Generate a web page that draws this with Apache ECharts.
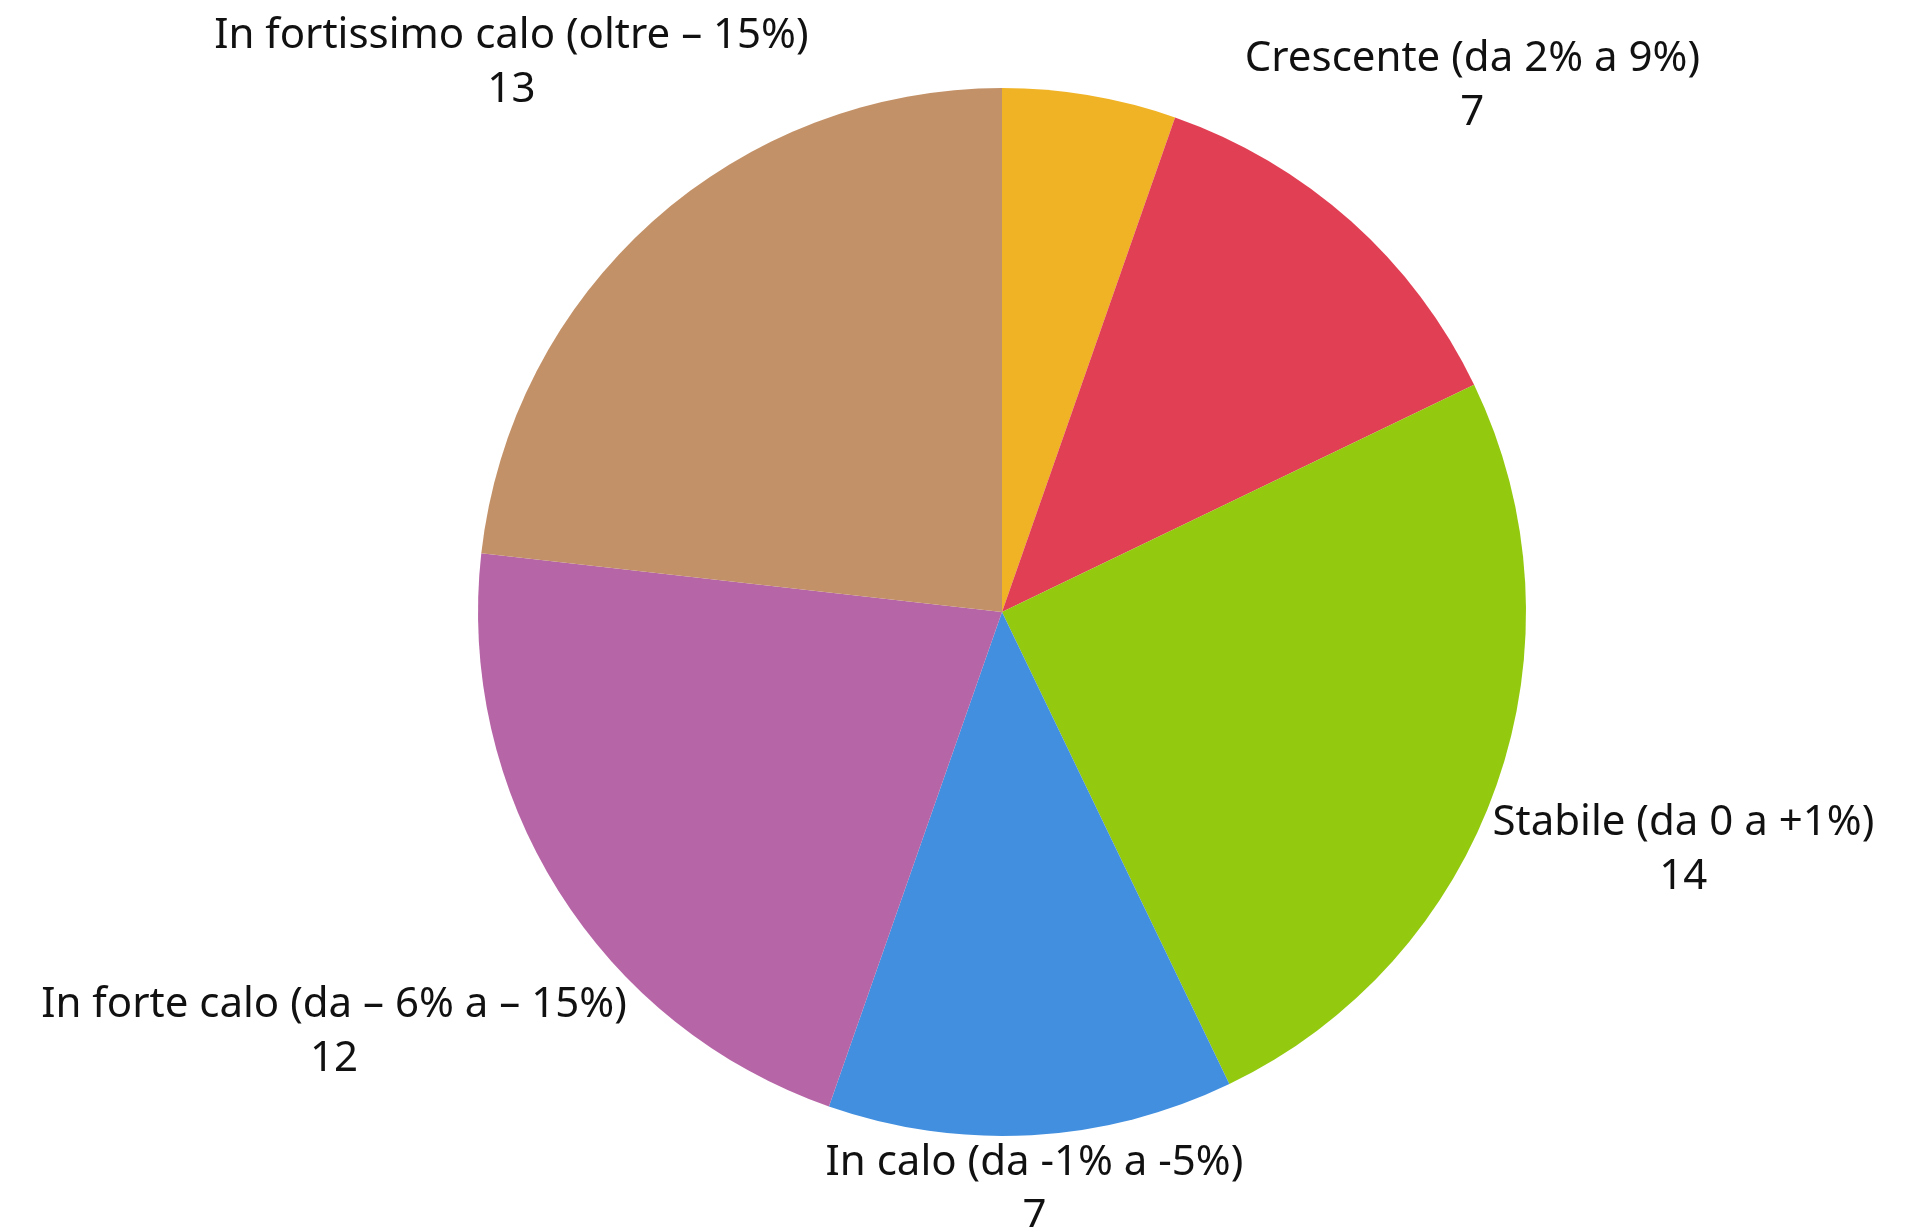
<!DOCTYPE html>
<html>
<head>
<meta charset="utf-8">
<script src="https://cdn.jsdelivr.net/npm/echarts@6/dist/echarts.min.js"></script>
<style>
html,body{margin:0;padding:0;background:#fff;}
#chart{width:1913px;height:1227px;}
</style>
</head>
<body>
<div id="chart"></div>
<script>
// categorie e valori
var categories = [
	'In forte crescita (oltre 9%)',
	'Crescente (da 2% a 9%)',
	'Stabile (da 0 a +1%)',
	'In calo (da -1% a -5%)',
	'In forte calo (da \u2013 6% a \u2013 15%)',
	'In fortissimo calo (oltre \u2013 15%)'
];
var values = [3, 7, 14, 7, 12, 13];
var colors = ['#F0B326', '#E13F53', '#93C90F', '#428FDF', '#B665A7', '#C39167'];
var showLabel = [false, true, true, true, true, true];

var CX = 1002, CY = 612, R = 524, GAP = 0, EXTRA = 8; // centro e raggio della torta

var total = 0;
for (var i = 0; i < values.length; i++) total += values[i];

var pieData = [];
for (var i = 0; i < values.length; i++) {
	pieData.push({
		name: categories[i],
		value: values[i],
		itemStyle: {color: colors[i]},
		label: {show: showLabel[i]}
	});
}

// posiziona l'etichetta lungo la bisettrice, appena fuori dal cerchio
function placeLabel(p) {
	var idx = p.dataIndex;
	var before = 0;
	for (var k = 0; k < idx; k++) before += values[k];
	var mid = (before + values[idx] / 2) / total * Math.PI * 2;
	var vx = Math.sin(mid), vy = -Math.cos(mid);
	var w = p.labelRect.width, h = p.labelRect.height;
	var lo = 0, hi = 3000;
	for (var n = 0; n < 60; n++) {
		var t = (lo + hi) / 2;
		var dx = Math.max(Math.abs(vx * t) - w / 2, 0);
		var top = vy * t - h / 2, bot = vy * t + h / 2 + EXTRA;
		var dy = top > 0 ? top : (bot < 0 ? -bot : 0);
		if (Math.sqrt(dx * dx + dy * dy) < R + GAP) lo = t; else hi = t;
	}
	return {
		x: CX + vx * hi,
		y: CY + vy * hi,
		align: 'center',
		verticalAlign: 'middle'
	};
}

var myChart = echarts.init(document.getElementById('chart'));
myChart.setOption({
	animation: false,
	series: [{
		type: 'pie',
		center: [CX, CY],
		radius: R,
		startAngle: 90,
		clockwise: true,
		avoidLabelOverlap: false,
		label: {
			position: 'outside',
			formatter: '{b}\n{c}',
			fontFamily: 'Noto Sans',
			fontSize: 42,
			lineHeight: 54,
			color: '#111',
			align: 'center'
		},
		labelLine: {show: false},
		labelLayout: placeLabel,
		emphasis: {disabled: true},
		data: pieData
	}]
});
</script>
</body>
</html>
